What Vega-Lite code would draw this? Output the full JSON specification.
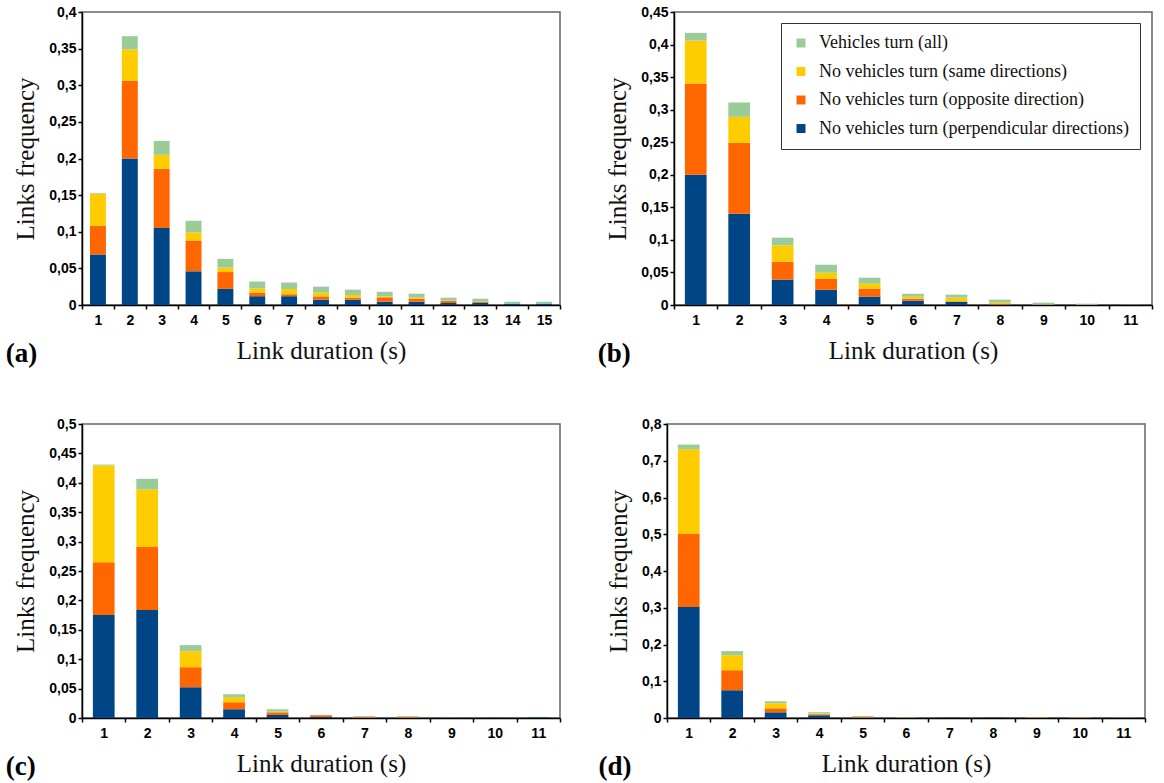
{
  "$schema": "https://vega.github.io/schema/vega-lite/v6.json",
  "padding": {"top": 4, "left": 5, "right": 0, "bottom": 0},
  "background": "#ffffff",
  "datasets": {
    "a": [
      {"dur": 1, "k": 1, "cat": "No vehicles turn (perpendicular directions)", "v": 0.069},
      {"dur": 1, "k": 2, "cat": "No vehicles turn (opposite direction)", "v": 0.039},
      {"dur": 1, "k": 3, "cat": "No vehicles turn (same directions)", "v": 0.044},
      {"dur": 1, "k": 4, "cat": "Vehicles turn (all)", "v": 0.001},
      {"dur": 2, "k": 1, "cat": "No vehicles turn (perpendicular directions)", "v": 0.2},
      {"dur": 2, "k": 2, "cat": "No vehicles turn (opposite direction)", "v": 0.106},
      {"dur": 2, "k": 3, "cat": "No vehicles turn (same directions)", "v": 0.043},
      {"dur": 2, "k": 4, "cat": "Vehicles turn (all)", "v": 0.018},
      {"dur": 3, "k": 1, "cat": "No vehicles turn (perpendicular directions)", "v": 0.105},
      {"dur": 3, "k": 2, "cat": "No vehicles turn (opposite direction)", "v": 0.081},
      {"dur": 3, "k": 3, "cat": "No vehicles turn (same directions)", "v": 0.019},
      {"dur": 3, "k": 4, "cat": "Vehicles turn (all)", "v": 0.019},
      {"dur": 4, "k": 1, "cat": "No vehicles turn (perpendicular directions)", "v": 0.046},
      {"dur": 4, "k": 2, "cat": "No vehicles turn (opposite direction)", "v": 0.042},
      {"dur": 4, "k": 3, "cat": "No vehicles turn (same directions)", "v": 0.011},
      {"dur": 4, "k": 4, "cat": "Vehicles turn (all)", "v": 0.016},
      {"dur": 5, "k": 1, "cat": "No vehicles turn (perpendicular directions)", "v": 0.022},
      {"dur": 5, "k": 2, "cat": "No vehicles turn (opposite direction)", "v": 0.023},
      {"dur": 5, "k": 3, "cat": "No vehicles turn (same directions)", "v": 0.006},
      {"dur": 5, "k": 4, "cat": "Vehicles turn (all)", "v": 0.012},
      {"dur": 6, "k": 1, "cat": "No vehicles turn (perpendicular directions)", "v": 0.012},
      {"dur": 6, "k": 2, "cat": "No vehicles turn (opposite direction)", "v": 0.005},
      {"dur": 6, "k": 3, "cat": "No vehicles turn (same directions)", "v": 0.0055},
      {"dur": 6, "k": 4, "cat": "Vehicles turn (all)", "v": 0.0095},
      {"dur": 7, "k": 1, "cat": "No vehicles turn (perpendicular directions)", "v": 0.012},
      {"dur": 7, "k": 2, "cat": "No vehicles turn (opposite direction)", "v": 0.0027},
      {"dur": 7, "k": 3, "cat": "No vehicles turn (same directions)", "v": 0.007},
      {"dur": 7, "k": 4, "cat": "Vehicles turn (all)", "v": 0.009},
      {"dur": 8, "k": 1, "cat": "No vehicles turn (perpendicular directions)", "v": 0.0073},
      {"dur": 8, "k": 2, "cat": "No vehicles turn (opposite direction)", "v": 0.0045},
      {"dur": 8, "k": 3, "cat": "No vehicles turn (same directions)", "v": 0.005},
      {"dur": 8, "k": 4, "cat": "Vehicles turn (all)", "v": 0.0082},
      {"dur": 9, "k": 1, "cat": "No vehicles turn (perpendicular directions)", "v": 0.0073},
      {"dur": 9, "k": 2, "cat": "No vehicles turn (opposite direction)", "v": 0.0027},
      {"dur": 9, "k": 3, "cat": "No vehicles turn (same directions)", "v": 0.0036},
      {"dur": 9, "k": 4, "cat": "Vehicles turn (all)", "v": 0.0074},
      {"dur": 10, "k": 1, "cat": "No vehicles turn (perpendicular directions)", "v": 0.0045},
      {"dur": 10, "k": 2, "cat": "No vehicles turn (opposite direction)", "v": 0.006},
      {"dur": 10, "k": 3, "cat": "No vehicles turn (same directions)", "v": 0.0013},
      {"dur": 10, "k": 4, "cat": "Vehicles turn (all)", "v": 0.0062},
      {"dur": 11, "k": 1, "cat": "No vehicles turn (perpendicular directions)", "v": 0.0045},
      {"dur": 11, "k": 2, "cat": "No vehicles turn (opposite direction)", "v": 0.0041},
      {"dur": 11, "k": 3, "cat": "No vehicles turn (same directions)", "v": 0.0014},
      {"dur": 11, "k": 4, "cat": "Vehicles turn (all)", "v": 0.0055},
      {"dur": 12, "k": 1, "cat": "No vehicles turn (perpendicular directions)", "v": 0.0027},
      {"dur": 12, "k": 2, "cat": "No vehicles turn (opposite direction)", "v": 0.0028},
      {"dur": 12, "k": 3, "cat": "No vehicles turn (same directions)", "v": 0.0005},
      {"dur": 12, "k": 4, "cat": "Vehicles turn (all)", "v": 0.004},
      {"dur": 13, "k": 1, "cat": "No vehicles turn (perpendicular directions)", "v": 0.0027},
      {"dur": 13, "k": 2, "cat": "No vehicles turn (opposite direction)", "v": 0.0013},
      {"dur": 13, "k": 3, "cat": "No vehicles turn (same directions)", "v": 0.0005},
      {"dur": 13, "k": 4, "cat": "Vehicles turn (all)", "v": 0.0041},
      {"dur": 14, "k": 1, "cat": "No vehicles turn (perpendicular directions)", "v": 0.0018},
      {"dur": 14, "k": 2, "cat": "No vehicles turn (opposite direction)", "v": 0},
      {"dur": 14, "k": 3, "cat": "No vehicles turn (same directions)", "v": 0},
      {"dur": 14, "k": 4, "cat": "Vehicles turn (all)", "v": 0.0027},
      {"dur": 15, "k": 1, "cat": "No vehicles turn (perpendicular directions)", "v": 0.0018},
      {"dur": 15, "k": 2, "cat": "No vehicles turn (opposite direction)", "v": 0},
      {"dur": 15, "k": 3, "cat": "No vehicles turn (same directions)", "v": 0},
      {"dur": 15, "k": 4, "cat": "Vehicles turn (all)", "v": 0.0027}
    ],
    "b": [
      {"dur": 1, "k": 1, "cat": "No vehicles turn (perpendicular directions)", "v": 0.2},
      {"dur": 1, "k": 2, "cat": "No vehicles turn (opposite direction)", "v": 0.14},
      {"dur": 1, "k": 3, "cat": "No vehicles turn (same directions)", "v": 0.066},
      {"dur": 1, "k": 4, "cat": "Vehicles turn (all)", "v": 0.012},
      {"dur": 2, "k": 1, "cat": "No vehicles turn (perpendicular directions)", "v": 0.14},
      {"dur": 2, "k": 2, "cat": "No vehicles turn (opposite direction)", "v": 0.109},
      {"dur": 2, "k": 3, "cat": "No vehicles turn (same directions)", "v": 0.04},
      {"dur": 2, "k": 4, "cat": "Vehicles turn (all)", "v": 0.022},
      {"dur": 3, "k": 1, "cat": "No vehicles turn (perpendicular directions)", "v": 0.039},
      {"dur": 3, "k": 2, "cat": "No vehicles turn (opposite direction)", "v": 0.0276},
      {"dur": 3, "k": 3, "cat": "No vehicles turn (same directions)", "v": 0.0251},
      {"dur": 3, "k": 4, "cat": "Vehicles turn (all)", "v": 0.0117},
      {"dur": 4, "k": 1, "cat": "No vehicles turn (perpendicular directions)", "v": 0.0236},
      {"dur": 4, "k": 2, "cat": "No vehicles turn (opposite direction)", "v": 0.0168},
      {"dur": 4, "k": 3, "cat": "No vehicles turn (same directions)", "v": 0.0093},
      {"dur": 4, "k": 4, "cat": "Vehicles turn (all)", "v": 0.0123},
      {"dur": 5, "k": 1, "cat": "No vehicles turn (perpendicular directions)", "v": 0.0128},
      {"dur": 5, "k": 2, "cat": "No vehicles turn (opposite direction)", "v": 0.0123},
      {"dur": 5, "k": 3, "cat": "No vehicles turn (same directions)", "v": 0.0077},
      {"dur": 5, "k": 4, "cat": "Vehicles turn (all)", "v": 0.0092},
      {"dur": 6, "k": 1, "cat": "No vehicles turn (perpendicular directions)", "v": 0.0067},
      {"dur": 6, "k": 2, "cat": "No vehicles turn (opposite direction)", "v": 0.003},
      {"dur": 6, "k": 3, "cat": "No vehicles turn (same directions)", "v": 0.0031},
      {"dur": 6, "k": 4, "cat": "Vehicles turn (all)", "v": 0.0046},
      {"dur": 7, "k": 1, "cat": "No vehicles turn (perpendicular directions)", "v": 0.0051},
      {"dur": 7, "k": 2, "cat": "No vehicles turn (opposite direction)", "v": 0.0005},
      {"dur": 7, "k": 3, "cat": "No vehicles turn (same directions)", "v": 0.0057},
      {"dur": 7, "k": 4, "cat": "Vehicles turn (all)", "v": 0.0046},
      {"dur": 8, "k": 1, "cat": "No vehicles turn (perpendicular directions)", "v": 0.0005},
      {"dur": 8, "k": 2, "cat": "No vehicles turn (opposite direction)", "v": 0.001},
      {"dur": 8, "k": 3, "cat": "No vehicles turn (same directions)", "v": 0.0021},
      {"dur": 8, "k": 4, "cat": "Vehicles turn (all)", "v": 0.0046},
      {"dur": 9, "k": 1, "cat": "No vehicles turn (perpendicular directions)", "v": 0.0002},
      {"dur": 9, "k": 2, "cat": "No vehicles turn (opposite direction)", "v": 0.0002},
      {"dur": 9, "k": 3, "cat": "No vehicles turn (same directions)", "v": 0.0004},
      {"dur": 9, "k": 4, "cat": "Vehicles turn (all)", "v": 0.0028},
      {"dur": 10, "k": 1, "cat": "No vehicles turn (perpendicular directions)", "v": 0.0001},
      {"dur": 10, "k": 2, "cat": "No vehicles turn (opposite direction)", "v": 0.0001},
      {"dur": 10, "k": 3, "cat": "No vehicles turn (same directions)", "v": 0.0002},
      {"dur": 10, "k": 4, "cat": "Vehicles turn (all)", "v": 0.0016},
      {"dur": 11, "k": 1, "cat": "No vehicles turn (perpendicular directions)", "v": 0},
      {"dur": 11, "k": 2, "cat": "No vehicles turn (opposite direction)", "v": 0},
      {"dur": 11, "k": 3, "cat": "No vehicles turn (same directions)", "v": 0},
      {"dur": 11, "k": 4, "cat": "Vehicles turn (all)", "v": 0.0002}
    ],
    "c": [
      {"dur": 1, "k": 1, "cat": "No vehicles turn (perpendicular directions)", "v": 0.175},
      {"dur": 1, "k": 2, "cat": "No vehicles turn (opposite direction)", "v": 0.09},
      {"dur": 1, "k": 3, "cat": "No vehicles turn (same directions)", "v": 0.1645},
      {"dur": 1, "k": 4, "cat": "Vehicles turn (all)", "v": 0.0015},
      {"dur": 2, "k": 1, "cat": "No vehicles turn (perpendicular directions)", "v": 0.1835},
      {"dur": 2, "k": 2, "cat": "No vehicles turn (opposite direction)", "v": 0.1075},
      {"dur": 2, "k": 3, "cat": "No vehicles turn (same directions)", "v": 0.0976},
      {"dur": 2, "k": 4, "cat": "Vehicles turn (all)", "v": 0.0182},
      {"dur": 3, "k": 1, "cat": "No vehicles turn (perpendicular directions)", "v": 0.0523},
      {"dur": 3, "k": 2, "cat": "No vehicles turn (opposite direction)", "v": 0.0341},
      {"dur": 3, "k": 3, "cat": "No vehicles turn (same directions)", "v": 0.0272},
      {"dur": 3, "k": 4, "cat": "Vehicles turn (all)", "v": 0.0103},
      {"dur": 4, "k": 1, "cat": "No vehicles turn (perpendicular directions)", "v": 0.0148},
      {"dur": 4, "k": 2, "cat": "No vehicles turn (opposite direction)", "v": 0.0119},
      {"dur": 4, "k": 3, "cat": "No vehicles turn (same directions)", "v": 0.0085},
      {"dur": 4, "k": 4, "cat": "Vehicles turn (all)", "v": 0.0051},
      {"dur": 5, "k": 1, "cat": "No vehicles turn (perpendicular directions)", "v": 0.0051},
      {"dur": 5, "k": 2, "cat": "No vehicles turn (opposite direction)", "v": 0.0046},
      {"dur": 5, "k": 3, "cat": "No vehicles turn (same directions)", "v": 0.0011},
      {"dur": 5, "k": 4, "cat": "Vehicles turn (all)", "v": 0.004},
      {"dur": 6, "k": 1, "cat": "No vehicles turn (perpendicular directions)", "v": 0.0017},
      {"dur": 6, "k": 2, "cat": "No vehicles turn (opposite direction)", "v": 0.0028},
      {"dur": 6, "k": 3, "cat": "No vehicles turn (same directions)", "v": 0},
      {"dur": 6, "k": 4, "cat": "Vehicles turn (all)", "v": 0.0003},
      {"dur": 7, "k": 1, "cat": "No vehicles turn (perpendicular directions)", "v": 0.0003},
      {"dur": 7, "k": 2, "cat": "No vehicles turn (opposite direction)", "v": 0.0014},
      {"dur": 7, "k": 3, "cat": "No vehicles turn (same directions)", "v": 0.0003},
      {"dur": 7, "k": 4, "cat": "Vehicles turn (all)", "v": 0.0014},
      {"dur": 8, "k": 1, "cat": "No vehicles turn (perpendicular directions)", "v": 0.0003},
      {"dur": 8, "k": 2, "cat": "No vehicles turn (opposite direction)", "v": 0.0014},
      {"dur": 8, "k": 3, "cat": "No vehicles turn (same directions)", "v": 0.0003},
      {"dur": 8, "k": 4, "cat": "Vehicles turn (all)", "v": 0.0014},
      {"dur": 9, "k": 1, "cat": "No vehicles turn (perpendicular directions)", "v": 0.0005},
      {"dur": 9, "k": 2, "cat": "No vehicles turn (opposite direction)", "v": 0.0003},
      {"dur": 9, "k": 3, "cat": "No vehicles turn (same directions)", "v": 0.0002},
      {"dur": 9, "k": 4, "cat": "Vehicles turn (all)", "v": 0},
      {"dur": 10, "k": 1, "cat": "No vehicles turn (perpendicular directions)", "v": 0.0005},
      {"dur": 10, "k": 2, "cat": "No vehicles turn (opposite direction)", "v": 0.0003},
      {"dur": 10, "k": 3, "cat": "No vehicles turn (same directions)", "v": 0},
      {"dur": 10, "k": 4, "cat": "Vehicles turn (all)", "v": 0},
      {"dur": 11, "k": 1, "cat": "No vehicles turn (perpendicular directions)", "v": 0.0008},
      {"dur": 11, "k": 2, "cat": "No vehicles turn (opposite direction)", "v": 0},
      {"dur": 11, "k": 3, "cat": "No vehicles turn (same directions)", "v": 0},
      {"dur": 11, "k": 4, "cat": "Vehicles turn (all)", "v": 0}
    ],
    "d": [
      {"dur": 1, "k": 1, "cat": "No vehicles turn (perpendicular directions)", "v": 0.302},
      {"dur": 1, "k": 2, "cat": "No vehicles turn (opposite direction)", "v": 0.199},
      {"dur": 1, "k": 3, "cat": "No vehicles turn (same directions)", "v": 0.23},
      {"dur": 1, "k": 4, "cat": "Vehicles turn (all)", "v": 0.013},
      {"dur": 2, "k": 1, "cat": "No vehicles turn (perpendicular directions)", "v": 0.0755},
      {"dur": 2, "k": 2, "cat": "No vehicles turn (opposite direction)", "v": 0.0545},
      {"dur": 2, "k": 3, "cat": "No vehicles turn (same directions)", "v": 0.041},
      {"dur": 2, "k": 4, "cat": "Vehicles turn (all)", "v": 0.011},
      {"dur": 3, "k": 1, "cat": "No vehicles turn (perpendicular directions)", "v": 0.0155},
      {"dur": 3, "k": 2, "cat": "No vehicles turn (opposite direction)", "v": 0.0109},
      {"dur": 3, "k": 3, "cat": "No vehicles turn (same directions)", "v": 0.0136},
      {"dur": 3, "k": 4, "cat": "Vehicles turn (all)", "v": 0.0055},
      {"dur": 4, "k": 1, "cat": "No vehicles turn (perpendicular directions)", "v": 0.0073},
      {"dur": 4, "k": 2, "cat": "No vehicles turn (opposite direction)", "v": 0.0027},
      {"dur": 4, "k": 3, "cat": "No vehicles turn (same directions)", "v": 0.0027},
      {"dur": 4, "k": 4, "cat": "Vehicles turn (all)", "v": 0.0028},
      {"dur": 5, "k": 1, "cat": "No vehicles turn (perpendicular directions)", "v": 0.0005},
      {"dur": 5, "k": 2, "cat": "No vehicles turn (opposite direction)", "v": 0.0022},
      {"dur": 5, "k": 3, "cat": "No vehicles turn (same directions)", "v": 0},
      {"dur": 5, "k": 4, "cat": "Vehicles turn (all)", "v": 0.0028},
      {"dur": 6, "k": 1, "cat": "No vehicles turn (perpendicular directions)", "v": 0.0005},
      {"dur": 6, "k": 2, "cat": "No vehicles turn (opposite direction)", "v": 0.0005},
      {"dur": 6, "k": 3, "cat": "No vehicles turn (same directions)", "v": 0.0005},
      {"dur": 6, "k": 4, "cat": "Vehicles turn (all)", "v": 0.0005},
      {"dur": 7, "k": 1, "cat": "No vehicles turn (perpendicular directions)", "v": 0.001},
      {"dur": 7, "k": 2, "cat": "No vehicles turn (opposite direction)", "v": 0.0003},
      {"dur": 7, "k": 3, "cat": "No vehicles turn (same directions)", "v": 0},
      {"dur": 7, "k": 4, "cat": "Vehicles turn (all)", "v": 0},
      {"dur": 8, "k": 1, "cat": "No vehicles turn (perpendicular directions)", "v": 0.001},
      {"dur": 8, "k": 2, "cat": "No vehicles turn (opposite direction)", "v": 0.0003},
      {"dur": 8, "k": 3, "cat": "No vehicles turn (same directions)", "v": 0},
      {"dur": 8, "k": 4, "cat": "Vehicles turn (all)", "v": 0},
      {"dur": 9, "k": 1, "cat": "No vehicles turn (perpendicular directions)", "v": 0},
      {"dur": 9, "k": 2, "cat": "No vehicles turn (opposite direction)", "v": 0.0005},
      {"dur": 9, "k": 3, "cat": "No vehicles turn (same directions)", "v": 0.0008},
      {"dur": 9, "k": 4, "cat": "Vehicles turn (all)", "v": 0},
      {"dur": 10, "k": 1, "cat": "No vehicles turn (perpendicular directions)", "v": 0},
      {"dur": 10, "k": 2, "cat": "No vehicles turn (opposite direction)", "v": 0.0005},
      {"dur": 10, "k": 3, "cat": "No vehicles turn (same directions)", "v": 0.0008},
      {"dur": 10, "k": 4, "cat": "Vehicles turn (all)", "v": 0},
      {"dur": 11, "k": 1, "cat": "No vehicles turn (perpendicular directions)", "v": 0.0005},
      {"dur": 11, "k": 2, "cat": "No vehicles turn (opposite direction)", "v": 0},
      {"dur": 11, "k": 3, "cat": "No vehicles turn (same directions)", "v": 0},
      {"dur": 11, "k": 4, "cat": "Vehicles turn (all)", "v": 0.0005}
    ]
  },
  "vconcat": [
    {
      "hconcat": [
        {
          "width": 478, "height": 293,
          "data": {"name": "a"},
          "title": {"text": "(a)"},
          "mark": {"type": "bar", "width": {"band": 0.5}},
          "encoding": {
            "x": {"field": "dur", "type": "ordinal", "scale": {"paddingInner": 0, "paddingOuter": 0}, "axis": {"title": "Link duration (s)", "tickBand": "extent"}},
            "y": {"field": "v", "type": "quantitative", "stack": "zero", "scale": {"domain": [0, 0.4], "nice": false}, "axis": {"title": "Links frequency", "values": [0, 0.05, 0.1, 0.15, 0.2, 0.25, 0.3, 0.35, 0.4]}},
            "color": {"field": "cat", "type": "nominal", "scale": {"domain": ["Vehicles turn (all)", "No vehicles turn (same directions)", "No vehicles turn (opposite direction)", "No vehicles turn (perpendicular directions)"], "range": ["#99cc99", "#ffcc00", "#ff6600", "#004586"]}, "legend": null},
            "order": {"field": "k", "type": "quantitative"}
          }
        },
        {
          "width": 478, "height": 293,
          "data": {"name": "b"},
          "title": {"text": "(b)"},
          "mark": {"type": "bar", "width": {"band": 0.5}},
          "encoding": {
            "x": {"field": "dur", "type": "ordinal", "scale": {"paddingInner": 0, "paddingOuter": 0}, "axis": {"title": "Link duration (s)", "tickBand": "extent"}},
            "y": {"field": "v", "type": "quantitative", "stack": "zero", "scale": {"domain": [0, 0.45], "nice": false}, "axis": {"title": "Links frequency", "values": [0, 0.05, 0.1, 0.15, 0.2, 0.25, 0.3, 0.35, 0.4, 0.45]}},
            "color": {"field": "cat", "type": "nominal", "scale": {"domain": ["Vehicles turn (all)", "No vehicles turn (same directions)", "No vehicles turn (opposite direction)", "No vehicles turn (perpendicular directions)"], "range": ["#99cc99", "#ffcc00", "#ff6600", "#004586"]},
              "legend": {"orient": "none", "legendX": 107, "legendY": 11, "title": null, "strokeColor": "#333333", "fillColor": "#ffffff", "padding": 11, "symbolType": "square", "symbolSize": 81, "symbolStrokeWidth": 0, "symbolOpacity": 1, "labelFont": "Liberation Serif", "labelFontSize": 18, "labelFontWeight": "normal", "labelColor": "#111111", "labelOffset": 9, "rowPadding": 10.5, "labelLimit": 600}},
            "order": {"field": "k", "type": "quantitative"}
          }
        }
      ],
      "spacing": 35,
      "resolve": {"legend": {"color": "independent"}}
    },
    {
      "hconcat": [
        {
          "width": 478, "height": 294,
          "data": {"name": "c"},
          "title": {"text": "(c)"},
          "mark": {"type": "bar", "width": {"band": 0.5}},
          "encoding": {
            "x": {"field": "dur", "type": "ordinal", "scale": {"paddingInner": 0, "paddingOuter": 0}, "axis": {"title": "Link duration (s)", "tickBand": "extent"}},
            "y": {"field": "v", "type": "quantitative", "stack": "zero", "scale": {"domain": [0, 0.5], "nice": false}, "axis": {"title": "Links frequency", "values": [0, 0.05, 0.1, 0.15, 0.2, 0.25, 0.3, 0.35, 0.4, 0.45, 0.5]}},
            "color": {"field": "cat", "type": "nominal", "scale": {"domain": ["Vehicles turn (all)", "No vehicles turn (same directions)", "No vehicles turn (opposite direction)", "No vehicles turn (perpendicular directions)"], "range": ["#99cc99", "#ffcc00", "#ff6600", "#004586"]}, "legend": null},
            "order": {"field": "k", "type": "quantitative"}
          }
        },
        {
          "width": 478, "height": 294,
          "data": {"name": "d"},
          "title": {"text": "(d)"},
          "mark": {"type": "bar", "width": {"band": 0.5}},
          "encoding": {
            "x": {"field": "dur", "type": "ordinal", "scale": {"paddingInner": 0, "paddingOuter": 0}, "axis": {"title": "Link duration (s)", "tickBand": "extent"}},
            "y": {"field": "v", "type": "quantitative", "stack": "zero", "scale": {"domain": [0, 0.8], "nice": false}, "axis": {"title": "Links frequency", "values": [0, 0.1, 0.2, 0.3, 0.4, 0.5, 0.6, 0.7, 0.8]}},
            "color": {"field": "cat", "type": "nominal", "scale": {"domain": ["Vehicles turn (all)", "No vehicles turn (same directions)", "No vehicles turn (opposite direction)", "No vehicles turn (perpendicular directions)"], "range": ["#99cc99", "#ffcc00", "#ff6600", "#004586"]}, "legend": null},
            "order": {"field": "k", "type": "quantitative"}
          }
        }
      ],
      "spacing": 35,
      "resolve": {"legend": {"color": "independent"}}
    }
  ],
  "spacing": 48,
  "resolve": {"legend": {"color": "independent"}},
  "config": {
    "view": {"stroke": "#666666", "strokeWidth": 1.5},
    "axis": {
      "grid": false,
      "domainColor": "#000000", "domainWidth": 1.5,
      "tickColor": "#000000", "tickWidth": 1.5, "tickSize": 4,
      "labelFont": "Liberation Sans", "labelFontWeight": "bold", "labelFontSize": 14, "labelColor": "#000000",
      "titleFont": "Liberation Serif", "titleFontWeight": "normal", "titleFontSize": 25, "titleColor": "#111111"
    },
    "axisX": {"labelAngle": 0, "labelPadding": 4, "titlePadding": 11},
    "axisY": {"labelPadding": 2, "titlePadding": 10, "labelExpr": "replace(format(datum.value, '~g'), '.', ',')"},
    "title": {"orient": "bottom", "anchor": "start", "frame": "bounds", "font": "Liberation Serif", "fontSize": 27, "fontWeight": "bold", "color": "#000000", "offset": -22, "dx": -8, "baseline": "alphabetic"}
  }
}
